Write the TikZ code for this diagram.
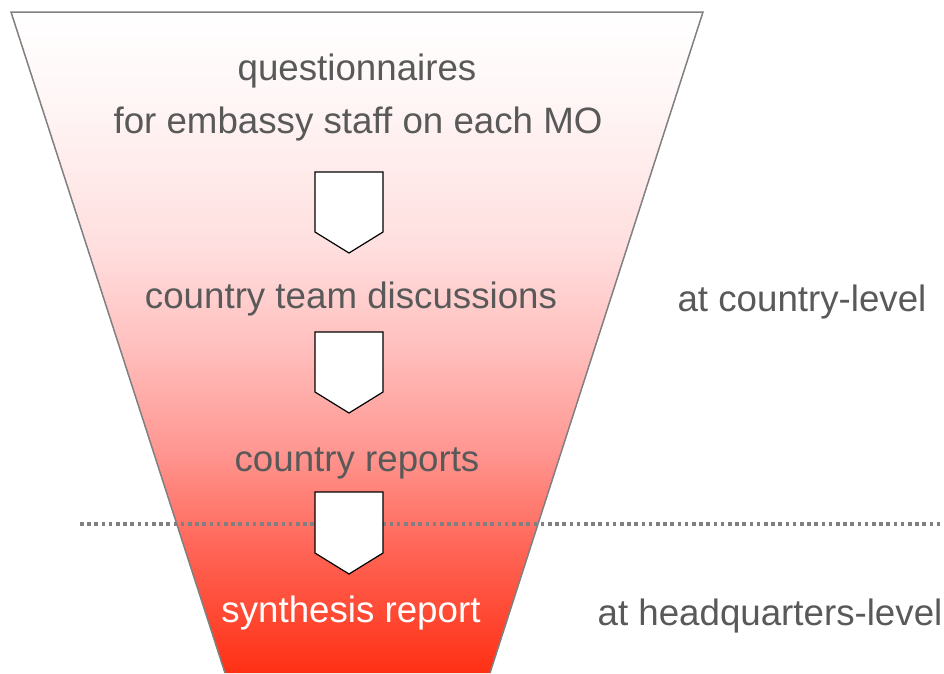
\documentclass[tikz,border=0pt]{standalone}
\usepackage{fontspec}
\setmainfont{Liberation Sans}
\definecolor{funA}{RGB}{255,48,20}
\definecolor{funB}{RGB}{255,100,85}
\definecolor{funC}{RGB}{255,150,145}
\definecolor{funD}{RGB}{255,190,188}
\definecolor{funE}{RGB}{255,222,222}
\definecolor{funF}{RGB}{255,246,246}
\definecolor{txtgrey}{RGB}{89,89,89}
\definecolor{edgegrey}{RGB}{128,128,128}
\pgfdeclareverticalshading{funnelshade}{100bp}{%
  color(0bp)=(funA);
  color(25bp)=(funA);
  color(34.2bp)=(funB);
  color(41.8bp)=(funC);
  color(49.4bp)=(funD);
  color(57bp)=(funE);
  color(68.3bp)=(funF);
  color(75bp)=(white);
  color(100bp)=(white)}
\tikzset{
  lbl/.style={anchor=base, text=txtgrey, font=\fontsize{36.7}{44}\selectfont, inner sep=0pt},
  downarrow/.style={draw=black, fill=white, line width=1.2pt, line join=miter},
}
\begin{document}
\begin{tikzpicture}[x=1pt,y=-1pt]
\useasboundingbox (0,0) rectangle (944,673);
% funnel
\path[shading=funnelshade] (11,12) -- (703,12) -- (490,673) -- (225,673) -- cycle;
\draw[edgegrey, line width=1.5pt] (225,673) -- (11,12) -- (703,12) -- (490,673);
% dotted level separator
\coordinate (sepL) at (80,524);
\coordinate (sepR) at (944,524);
\draw[edgegrey, line width=3.6pt, dash pattern=on 3.6pt off 3.6pt] (sepL) -- (sepR);
% arrows
\draw[downarrow] (315,172) -- (383,172) -- (383,232) -- (349,253) -- (315,232) -- cycle;
\draw[downarrow] (315,332) -- (383,332) -- (383,392) -- (349,413) -- (315,392) -- cycle;
\draw[downarrow] (315,492) -- (383,492) -- (383,553) -- (349,574) -- (315,553) -- cycle;
% texts
\node[lbl] (q1) at (357,80) {questionnaires};
\node[lbl] (q2) at (358,133) {for embassy staff on each MO};
\node[lbl] (ctd) at (351,308) {country team discussions};
\node[lbl] (cr) at (357,471) {country reports};
\node[lbl, text=white] (sr) at (351,622) {synthesis report};
\node[lbl] (acl) at (802,311) {at country-level};
\node[lbl] (ahl) at (770,625) {at headquarters-level};
\end{tikzpicture}
\end{document}
